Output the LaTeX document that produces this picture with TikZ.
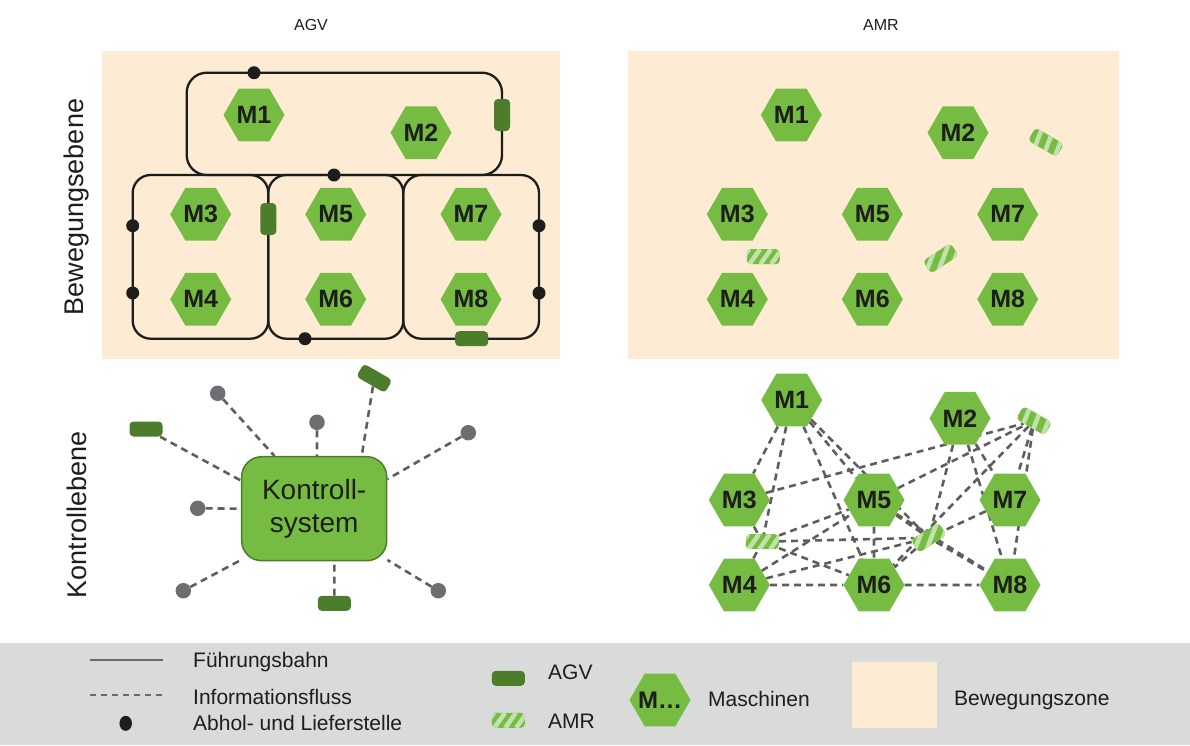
\documentclass[tikz,border=0pt]{standalone}
\usepackage{fontspec}
\setmainfont{Liberation Sans}
\usetikzlibrary{shapes.geometric,calc}
\definecolor{peach}{HTML}{FDEBD4}
\definecolor{lgray}{HTML}{D9DADA}
\definecolor{hexg}{HTML}{76BC43}
\definecolor{agvg}{HTML}{4B7D2B}
\definecolor{amrl}{HTML}{C2E2AB}
\definecolor{ink}{HTML}{1D1D1B}
\definecolor{dotgray}{HTML}{6D6E71}
\definecolor{dashgray}{HTML}{5E5E5E}
\definecolor{leggray}{HTML}{6A6A6A}
\pgfdeclarelayer{background}
\pgfsetlayers{background,main}
\tikzset{
 hexm/.style={regular polygon, regular polygon sides=6, minimum size=61pt, inner sep=0pt,
   fill=hexg, text=ink, font=\fontsize{25}{25}\selectfont\bfseries},
 agv/.style={rounded corners=4pt, fill=agvg, minimum width=33pt, minimum height=15pt, inner sep=0pt},
 agvv/.style={agv, minimum width=16pt, minimum height=32pt},
 amr/.style={rounded corners=4pt, fill=hexg, minimum width=33pt, minimum height=15pt, inner sep=0pt,
   path picture={
     \foreach \t [evaluate=\t as \u using \t+0.32] in {-0.25,0.08,0.41,0.74,1.07}
       \draw[amrl, line width=4.5pt]
         ($(path picture bounding box.south west)!\t!(path picture bounding box.south east)$) --
         ($(path picture bounding box.north west)!\u!(path picture bounding box.north east)$);
   }},
 track/.style={draw=ink, line width=2.3pt},
 stopdot/.style={circle, fill=ink, minimum size=13pt, inner sep=0pt},
 sat/.style={circle, fill=dotgray, minimum size=15.5pt, inner sep=0pt},
 info/.style={draw=dashgray, line width=2.6pt, dash pattern=on 7pt off 5pt},
 lbl/.style={text=ink, font=\fontsize{21}{24}\selectfont, anchor=west, inner sep=0pt},
}
\begin{document}
\begin{tikzpicture}[x=1pt,y=-1pt]
\useasboundingbox (0,0) rectangle (1190,745);

% ---------- panels ----------
\fill[peach] (102,51) rectangle (560,359);
\fill[peach] (628,51) rectangle (1119,359);

\node[text=ink, font=\fontsize{16}{18}\selectfont] (tagv) at (311,25) {AGV};
\node[text=ink, font=\fontsize{16}{18}\selectfont] (tamr) at (881,25) {AMR};
\node[rotate=90, text=ink, font=\fontsize{27}{30}\selectfont] (lbew) at (77,207) {Bewegungsebene};
\node[rotate=90, text=ink, font=\fontsize{27}{30}\selectfont] (lkon) at (77,515) {Kontrollebene};

% ---------- AGV movement level ----------
\draw[track, rounded corners=20pt] (186.7,72.7) rectangle (502,175);
\draw[track, rounded corners=18pt] (132.7,175) rectangle (268.3,338.7);
\draw[track, rounded corners=18pt] (268.3,175) rectangle (403.3,338.7);
\draw[track, rounded corners=18pt] (403.3,175) rectangle (539,338.7);

\node[stopdot] (d1) at (254,72.7) {};
\node[stopdot] (d2) at (334,175) {};
\node[stopdot] (d3) at (132.7,225.7) {};
\node[stopdot] (d4) at (132.7,293) {};
\node[stopdot] (d5) at (539,225.7) {};
\node[stopdot] (d6) at (539,293) {};
\node[stopdot] (d7) at (305,338.7) {};

\node[agvv] (v1) at (502,115) {};
\node[agvv] (v2) at (268.3,219) {};
\node[agv] (v3) at (471.7,338.7) {};

\node[hexm] (a1) at (254,115) {M1};
\node[hexm] (a2) at (421,132.7) {M2};
\node[hexm] (a3) at (200.7,214.3) {M3};
\node[hexm] (a4) at (200.7,299.3) {M4};
\node[hexm] (a5) at (335.7,214.3) {M5};
\node[hexm] (a6) at (335.7,299.3) {M6};
\node[hexm] (a7) at (471,214.3) {M7};
\node[hexm] (a8) at (471,299.3) {M8};

% ---------- AMR movement level ----------
\node[hexm] (b1) at (791.3,115) {M1};
\node[hexm] (b2) at (958,132.7) {M2};
\node[hexm] (b3) at (737.3,214.3) {M3};
\node[hexm] (b4) at (737.3,299.3) {M4};
\node[hexm] (b5) at (872.3,214.3) {M5};
\node[hexm] (b6) at (872.3,299.3) {M6};
\node[hexm] (b7) at (1007.7,214.3) {M7};
\node[hexm] (b8) at (1007.7,299.3) {M8};
\node[amr, rotate=-30] (r1) at (1046,142.3) {};
\node[amr] (r2) at (763.3,256.7) {};
\node[amr, rotate=33] (r3) at (940.7,258.3) {};

% ---------- AGV control level ----------
\node[draw=agvg, line width=1.5pt, fill=hexg, rounded corners=20pt, minimum width=145pt,
      minimum height=104pt, inner sep=0pt, align=center, text=ink,
      font=\fontsize{28}{33}\selectfont] (K) at (314.2,508.7) {Kontroll-\\system};
\node[sat] (s1) at (217.7,393.3) {};
\node[sat] (s2) at (317,422.3) {};
\node[sat] (s3) at (468.3,432.7) {};
\node[sat] (s4) at (197.7,508.3) {};
\node[sat] (s5) at (183.3,590.7) {};
\node[sat] (s6) at (438.3,590.7) {};
\node[agv] (g1) at (146,429) {};
\node[agv, rotate=-30] (g2) at (374.3,378.3) {};
\node[agv] (g3) at (334.3,603.3) {};
\draw[info] (s1) -- (K.127);
\draw[info] (s2) -- (K.87);
\draw[info] (s3) -- (K.22);
\draw[info] (s4) -- (K.west);
\draw[info] (s5) -- (K.215);
\draw[info] (s6) -- (K.325);
\draw[info] (g1) -- (K.159);
\draw[info] (g2) -- (K.48);
\draw[info] (g3) -- (K.291);

% ---------- AMR control level ----------
\node[hexm] (n1) at (791.7,400) {M1};
\node[hexm] (n2) at (960,418.3) {M2};
\node[hexm] (n3) at (739.3,500) {M3};
\node[hexm] (n4) at (739.3,585) {M4};
\node[hexm] (n5) at (874,500) {M5};
\node[hexm] (n6) at (874,585) {M6};
\node[hexm] (n7) at (1010,500) {M7};
\node[hexm] (n8) at (1010,585) {M8};
\node[amr, rotate=-30] (m1) at (1034,420.7) {};
\node[amr] (m2) at (762.3,541.7) {};
\node[amr, rotate=32] (m3) at (928.7,537.7) {};
\begin{pgfonlayer}{background}
\foreach \p/\q in {n1/n3, n1/m2, n1/n6, n1/n5, n1/m3,
                   n3/m1, n5/m1, n2/m3, n2/n8, n2/n7, m1/n7, m1/n8, m1/n6,
                   n3/m2, n4/m2, m2/n6, m2/n5, n4/n5, m2/m3, n4/m3, n4/n6, n5/n6,
                   n5/m3, n5/n8, m3/n8, n7/m3, m3/n6, n6/n8}
  \draw[info] (\p) -- (\q);
\end{pgfonlayer}

% ---------- legend ----------
\fill[lgray] (0,643) rectangle (1190,745);
\coordinate (la) at (90,660);
\coordinate (lb) at (163,660);
\coordinate (lc) at (90,695);
\coordinate (ld) at (163,695);
\draw[leggray, line width=2.6pt] (la) -- (lb);
\draw[leggray, line width=2pt, dash pattern=on 6pt off 5pt] (lc) -- (ld);
\node[ellipse, fill=ink, minimum width=12.5pt, minimum height=15pt, inner sep=0pt] (ldot) at (125.7,723.3) {};
\node[lbl] (t1) at (193,661.7) {Führungsbahn};
\node[lbl] (t2) at (193,696.7) {Informationsfluss};
\node[lbl] (t3) at (193,723.3) {Abhol- und Lieferstelle};
\node[agv] (lagv) at (508.3,678.3) {};
\node[amr] (lamr) at (508.3,720.3) {};
\node[lbl] (t4) at (548,672.3) {AGV};
\node[lbl] (t5) at (548,721) {AMR};
\node[hexm, font=\fontsize{24}{24}\selectfont\bfseries] (lhex) at (660,700) {\makebox[30pt][c]{M…}};
\node[lbl] (t6) at (708,699.3) {Maschinen};
\fill[peach] (851.7,662) rectangle (936.7,728.3);
\node[lbl] (t7) at (954,700) {Bewegungszone};
\end{tikzpicture}
\end{document}
